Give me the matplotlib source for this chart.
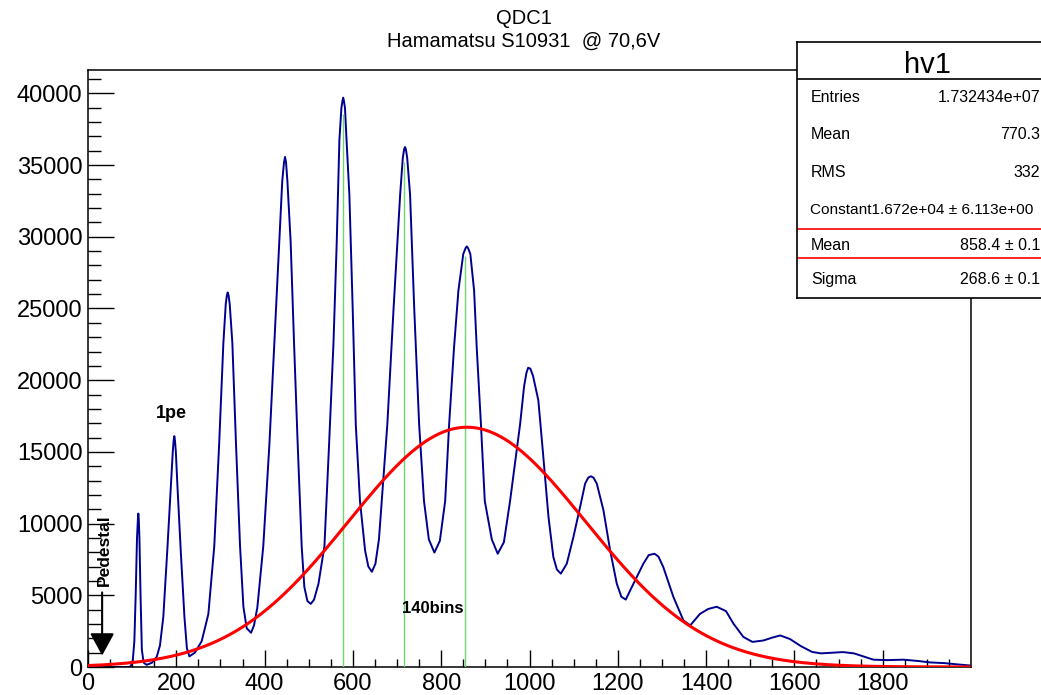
import numpy as np
import matplotlib.pyplot as plt
from matplotlib.ticker import FixedLocator, FormatStrFormatter

plt.rcParams["font.family"] = ["Liberation Sans", "DejaVu Sans"]

# QDC1 spectrum: channel and counts along the histogram outline
qdc_channel = [
    0, 95, 101, 105, 108, 111, 113, 114, 115, 116.5, 119, 122, 126, 133, 145, 155.6,
    163, 170.6, 179.6, 188, 192, 194, 195.5, 197, 199, 202.3, 210, 218.4, 224, 229.6,
    242, 257.5, 272.6, 286, 297, 306.6, 312, 314.5, 316.4, 318.5, 321, 327, 335.3, 344.4,
    352, 359.5, 369.3, 376, 383.6, 397, 410.8, 422, 433.4, 440, 444, 446.3, 448.5, 451.6,
    459, 466.7, 475, 484, 490, 497, 504.5, 512, 522, 535.5, 546, 556, 563.4,
    569.4, 574, 576.5, 578, 579.5, 582, 586, 592, 599.6, 606.5, 616, 627.6, 635, 643, 651,
    659, 668, 678, 692, 707, 713, 716, 718, 720, 723, 729.5, 739, 750, 761, 772, 784.6,
    797, 809, 818, 829, 839, 850, 855, 858, 861, 866, 874.5, 880.5, 890, 898.7, 914.6,
    928, 942, 956, 967, 978.7, 987.8, 993, 997, 1002, 1008, 1020, 1030, 1043, 1054, 1062,
    1071, 1084.5, 1099.5, 1114.6, 1126, 1133, 1139, 1145, 1152.4, 1167.5, 1182.6, 1197.7,
    1208, 1218, 1235.5, 1258, 1270, 1283, 1292, 1303, 1326, 1348.6, 1364,
    1386, 1405, 1424, 1445, 1462, 1484.6, 1505, 1530, 1550, 1568, 1590, 1615,
    1640, 1660, 1690, 1710, 1735, 1760, 1779, 1810, 1847, 1880, 1907, 1940,
    1970, 2000,
]
qdc_counts = [
    0, 0, 300, 1800, 5000, 9000, 10300, 10700, 10300, 9000, 5000, 1200, 300, 150, 300, 700,
    1500, 3500, 8140, 12790, 15000, 15800, 16100, 15800, 15000, 12790, 8140, 3500, 1300, 740,
    1000, 1800, 3690, 8420, 15490, 22580, 25300, 25900, 26120, 25900, 25300, 22580, 15490, 8420,
    4200, 2700, 2390, 2900, 4160, 8420, 15490, 22580, 29650, 33900, 35200, 35570, 35200, 33900,
    29650, 22580, 15490, 8420, 5580, 4600, 4400, 4700, 5800, 8420, 15490, 22580, 29650,
    36750, 39000, 39500, 39700, 39500, 39000, 36500, 32930, 24930, 16930, 11580, 8130, 7000, 6640, 7200,
    8900, 12700, 16930, 24930, 32930, 35500, 36100, 36260, 36100, 35500, 32930, 24930, 16930, 11580, 8900, 7980,
    8800, 11580, 16930, 22250, 26260, 28800, 29200, 29330, 29200, 28800, 26260, 22250, 16930, 11580, 8900,
    7900, 8700, 11580, 14200, 16930, 19580, 20500, 20870, 20800, 20300, 18600, 15120, 10460, 7670, 6800,
    6510, 7210, 9070, 11160, 12790, 13200, 13300, 13200, 12790, 10930, 8140, 5810,
    4900, 4700, 5810, 7210, 7800, 7900, 7700, 6970, 4880, 3250, 2900,
    3700, 4050, 4200, 3900, 3020, 2090, 1750, 1850, 2050, 2200, 1950, 1450,
    1050, 950, 1000, 1040, 950, 700, 510, 480, 510, 420, 320, 270,
    180, 100,
]

# Gaussian fit parameters
fit_constant = 1.672e4
fit_mean = 858.4
fit_sigma = 268.6

# markers on three neighbouring photoelectron peaks
marker_channel = [577, 715, 855]
marker_top = [38530, 35200, 28650]

stats_labels = ["Entries", "Mean", "RMS", "Constant", "Mean", "Sigma"]
stats_values = ["1.732434e+07", "770.3", "332", "1.672e+04 \u00b1 6.113e+00",
                "858.4 \u00b1 0.1", "268.6 \u00b1 0.1"]
stats_rows_y = [98, 135, 173, 210, 246, 280]

W, H = 1041, 695
fig = plt.figure(figsize=(W / 100, H / 100), dpi=100)
ax = fig.add_axes([88 / W, 1 - 667 / H, (971 - 88) / W, (667 - 70) / H])

ax.plot(qdc_channel, qdc_counts, color="#00008f", lw=1.4, zorder=2)
ax.vlines(marker_channel, 0, marker_top, color="#6fd66f", lw=1.0, zorder=3)
xf = np.linspace(0, 2000, 1001)
ax.plot(xf, fit_constant * np.exp(-0.5 * ((xf - fit_mean) / fit_sigma) ** 2),
        color="#ff0000", lw=2.2, zorder=4)

ax.set_xlim(0, 2000)
ax.set_ylim(0, 41630)
ax.xaxis.set_major_locator(FixedLocator(np.arange(0, 1801, 200)))
ax.xaxis.set_minor_locator(FixedLocator(np.arange(0, 1951, 50)))
ax.yaxis.set_major_locator(FixedLocator(np.arange(0, 40001, 5000)))
ax.yaxis.set_minor_locator(FixedLocator(np.arange(0, 41001, 1000)))
ax.xaxis.set_major_formatter(FormatStrFormatter("%d"))
ax.yaxis.set_major_formatter(FormatStrFormatter("%d"))
ax.tick_params(which="both", direction="in", top=False, right=False,
               labelsize=17, width=1.0, colors="black")
ax.tick_params(axis="x", which="major", length=12, pad=4)
ax.tick_params(axis="x", which="minor", length=6)
ax.tick_params(axis="y", which="major", length=19, pad=4)
ax.tick_params(axis="y", which="minor", length=9.5)
for sp in ax.spines.values():
    sp.set_linewidth(1.1)
    sp.set_color("black")

# annotations
ax.text(188, 17690, "1pe", fontsize=13, fontweight="bold", ha="center", va="center")
ax.text(781, 4090, "140bins", fontsize=12, fontweight="bold", ha="center", va="center")
ax.text(38, 8140, "Pedestal", fontsize=12.5, fontweight="bold", rotation=90,
        ha="center", va="center")
ax.annotate("", xy=(32, 800), xytext=(32, 5200),
            arrowprops=dict(arrowstyle="-|>,head_length=0.55,head_width=0.3",
                            color="black", lw=1.5, mutation_scale=25,
                            shrinkA=0, shrinkB=0))

# title
fig.text(524 / W, 1 - 24 / H, "QDC1", fontsize=14.5, ha="center", va="baseline")
fig.text(524 / W, 1 - 46.5 / H, "Hamamatsu S10931  @ 70,6V", fontsize=14.5,
         ha="center", va="baseline")

# stats box
sa = fig.add_axes([797 / W, 1 - 298 / H, (1050 - 797) / W, (298 - 42) / H], zorder=5)
sa.set_xlim(797, 1050)
sa.set_ylim(298, 42)
sa.set_xticks([])
sa.set_yticks([])
for sp in sa.spines.values():
    sp.set_linewidth(1.2)
sa.text(927, 73, "hv1", fontsize=21, ha="center", va="baseline")
sa.axhline(79, color="black", lw=1.2)
for lab, val, yy in zip(stats_labels, stats_values, stats_rows_y):
    if lab == "Constant":
        # long value runs straight on from the label
        sa.text(810, yy, lab + val, fontsize=11.1, ha="left", va="center")
    else:
        sa.text(811, yy, lab, fontsize=11.5, ha="left", va="center")
        sa.text(1040, yy, val, fontsize=11.5, ha="right", va="center")
sa.axhline(229, color="#ff0000", lw=1.2)
sa.axhline(258, color="#ff0000", lw=1.2)

fig.savefig("out.png", dpi=100)
